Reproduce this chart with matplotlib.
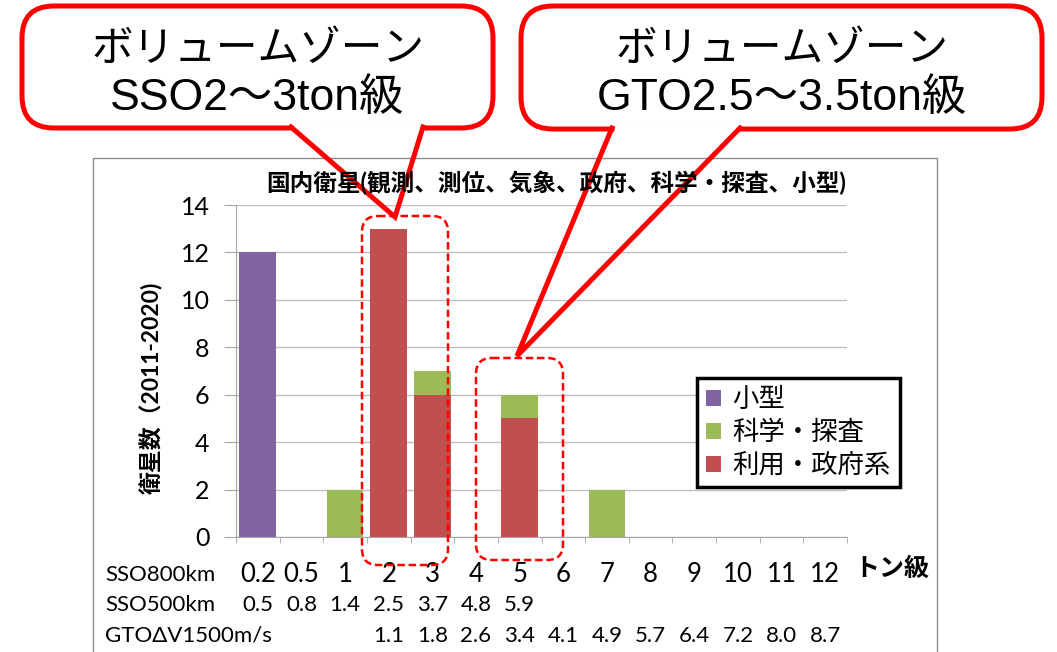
import matplotlib
matplotlib.use('Agg')
import matplotlib.pyplot as plt
import matplotlib.transforms as mtransforms
from matplotlib.patches import FancyBboxPatch, Rectangle
import numpy as np

plt.rcParams['font.family'] = ['Lato', 'Noto Sans CJK JP']

# ---- data ----
categories = ['0.2', '0.5', '1', '2', '3', '4', '5', '6', '7', '8', '9', '10', '11', '12']
sso500 = ['0.5', '0.8', '1.4', '2.5', '3.7', '4.8', '5.9', '', '', '', '', '', '', '']
gto1500 = ['', '', '', '1.1', '1.8', '2.6', '3.4', '4.1', '4.9', '5.7', '6.4', '7.2', '8.0', '8.7']
gov = [0, 0, 0, 13, 6, 0, 5, 0, 0, 0, 0, 0, 0, 0]       # 利用・政府系
science = [0, 0, 2, 0, 1, 0, 1, 0, 2, 0, 0, 0, 0, 0]   # 科学・探査
small = [12, 0, 0, 0, 0, 0, 0, 0, 0, 0, 0, 0, 0, 0]    # 小型

W, H = 1057, 652
fig = plt.figure(figsize=(W / 100, H / 100), dpi=100)
fig.patch.set_facecolor('white')

def fx(px):
    return px / W

def fy(py):
    return 1 - py / H

# bar chart axes
ax = fig.add_axes([fx(236), fy(537), fx(847) - fx(236), fy(205) - fy(537)])
x = np.arange(len(categories))
gov_a = np.array(gov)
sci_a = np.array(science)
small_a = np.array(small)
b1 = ax.bar(x, gov_a, 0.84, color='#C0504D', label='利用・政府系', zorder=3)
b2 = ax.bar(x, sci_a, 0.84, bottom=gov_a, color='#9BBB59', label='科学・探査', zorder=3)
b3 = ax.bar(x, small_a, 0.84, bottom=gov_a + sci_a, color='#8064A2', label='小型', zorder=3)

ax.set_xlim(-0.5, len(categories) - 0.5)
ax.set_ylim(0, 14)
ax.set_yticks(range(0, 15, 2))
ax.yaxis.grid(True, color='#BFBFBF', lw=1)
ax.set_axisbelow(True)
for s in ['top', 'right']:
    ax.spines[s].set_visible(False)
for s in ['left', 'bottom']:
    ax.spines[s].set_color('#A6A6A6')
ax.tick_params(axis='y', labelsize=18, length=9, color='#A6A6A6', pad=10)
ax.set_xticks(x)
ax.set_xticklabels([])
ax.tick_params(axis='x', which='major', length=0)
ax.set_xticks(np.arange(-0.5, len(categories), 1), minor=True)
ax.tick_params(axis='x', which='minor', length=4, color='#A6A6A6')

leg = ax.legend(handles=[b3, b2, b1], loc='upper left',
                bbox_to_anchor=(fx(697), fy(378)), bbox_transform=fig.transFigure,
                fontsize=19, frameon=True, fancybox=False, edgecolor='black',
                framealpha=1, handlelength=0.55, handleheight=0.55,
                handletextpad=0.45, borderpad=0.35, labelspacing=0.3,
                borderaxespad=0)
leg.get_frame().set_linewidth(2.5)

# overlay in pixel coordinates for annotations
ov = fig.add_axes([0, 0, 1, 1], zorder=10)
ov.set_xlim(0, W)
ov.set_ylim(H, 0)
ov.axis('off')
ov.patch.set_alpha(0)

# chart frame
ov.add_patch(Rectangle((93, 158), 844, 540, fill=False, ec='#8C8C8C', lw=1))

ov.text(556, 183, '国内衛星(観測、測位、気象、政府、科学・探査、小型)',
        ha='center', va='center', fontsize=17, fontweight='bold')
ov.text(151, 388, '衛星数（2011-2020)', rotation=90, ha='center', va='center',
        fontsize=16.5, fontweight='bold')

# category rows under the axis
blend = mtransforms.blended_transform_factory(ax.transData, ov.transData)
for i in x:
    ax.text(i, 575, categories[i], transform=blend, ha='center', va='center', fontsize=18.5)
    ax.text(i, 605, sso500[i], transform=blend, ha='center', va='center', fontsize=16)
    ax.text(i, 636, gto1500[i], transform=blend, ha='center', va='center', fontsize=16)
ov.text(105, 575, 'SSO800km', ha='left', va='center', fontsize=16)
ov.text(105, 605, 'SSO500km', ha='left', va='center', fontsize=16)
ov.text(105, 636, 'GTOΔV1500m/s', ha='left', va='center', fontsize=16)
ov.text(892, 568, 'トン級', ha='center', va='center', fontsize=18, fontweight='bold')

# dashed highlight boxes
for (x0, y0, x1, y1) in [(362, 216, 448, 565), (476, 358, 563, 560)]:
    ov.add_patch(FancyBboxPatch((x0, y0), x1 - x0, y1 - y0,
                                boxstyle='round,pad=0,rounding_size=16',
                                fill=False, ec='red', lw=1.8, ls=(0, (3, 1.5))))

# callout bubbles
def bubble(x0, y0, x1, y1, base, tip, line1, line2):
    ov.add_patch(FancyBboxPatch((x0, y0), x1 - x0, y1 - y0,
                                boxstyle='round,pad=0,rounding_size=32',
                                fc='white', ec='red', lw=3.6))
    ov.plot([base[0] + 2, base[1] - 2], [y1, y1], color='white', lw=5,
            solid_capstyle='butt')
    ov.plot([base[0], tip[0], base[1]], [y1 - 1, tip[1], y1 - 1], color='red',
            lw=3.6, solid_joinstyle='miter')
    cx = (x0 + x1) / 2
    ov.text(cx, 49, line1, ha='center', va='center', fontsize=30)
    ov.text(cx, 98, line2, ha='center', va='center', fontsize=32,
            family=['Liberation Sans', 'Noto Sans CJK JP'])

bubble(22, 6, 493, 128, (291, 423), (395, 217), 'ボリュームゾーン', 'SSO2～3ton級')
bubble(521, 6, 1042, 129, (612, 740), (517, 356), 'ボリュームゾーン', 'GTO2.5～3.5ton級')

fig.savefig('out.png', dpi=100)
